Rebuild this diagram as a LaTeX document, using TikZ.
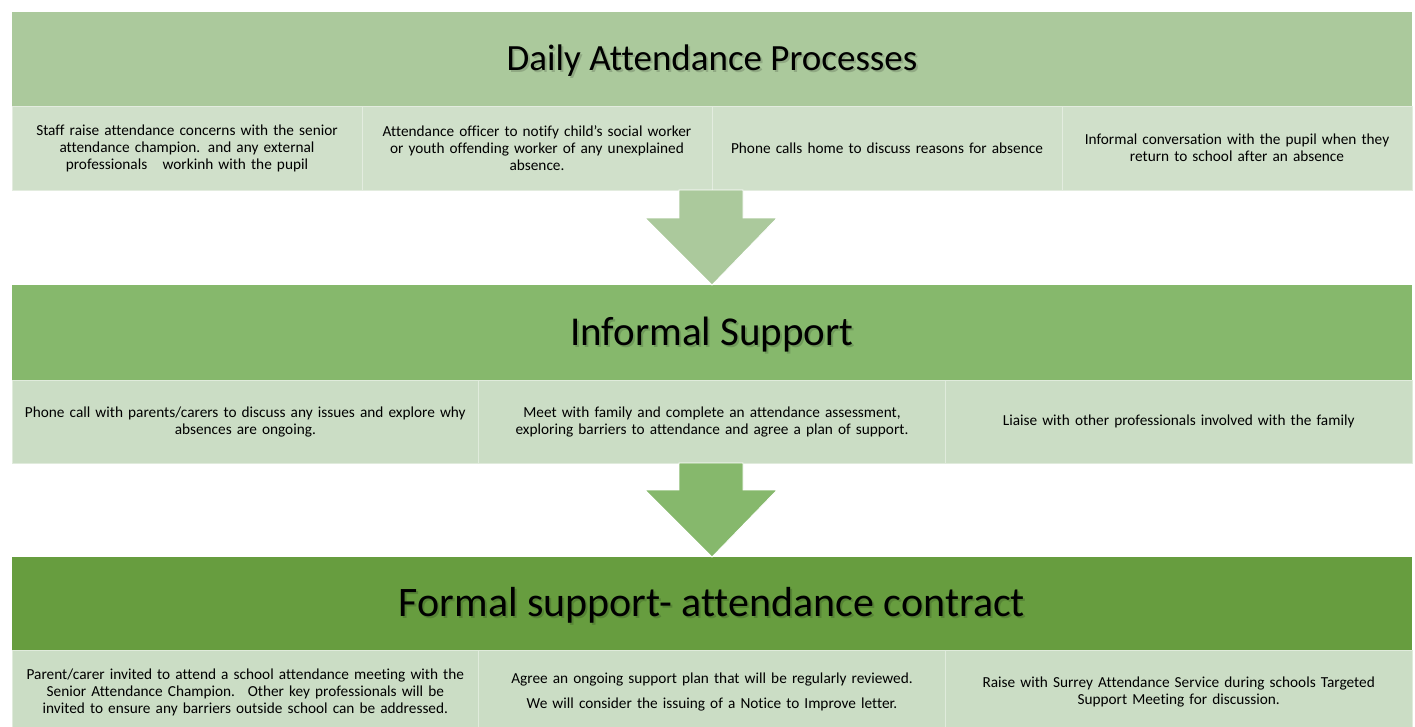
\documentclass[tikz,border=0pt]{standalone}
\usepackage{fontspec}
\setmainfont{Carlito}[Ligatures=NoCommon]
\usetikzlibrary{positioning,calc}

\definecolor{dailyhead}{HTML}{ABC99C}
\definecolor{informalhead}{HTML}{86B86C}
\definecolor{formalhead}{HTML}{679D3F}
\definecolor{dailycell}{HTML}{D0E0CA}
\definecolor{supportcell}{HTML}{CBDDC5}

\newcommand{\headtext}[2]{\leavevmode\raisebox{-0.32em}[0pt][0pt]{\rlap{\kern2pt\raisebox{-2pt}{\textcolor{#1!84!black}{#2}}}#2}}

\tikzset{
  header/.style={fill=#1, minimum width=1400pt, minimum height=94pt,
    inner sep=0pt, outer sep=0pt},
  cell/.style={fill=#1, draw=white!40!#1, line width=0.8pt, minimum height=84pt,
    inner sep=0pt, outer sep=0pt, align=center, font=\fontsize{15.3}{17}\selectfont},
  quarter/.style={minimum width=350pt, text width=340pt},
  third/.style={minimum width=466.67pt, text width=456pt},
  downarrow/.style={fill=#1, draw=white, line width=0.8pt},
}

\begin{document}
\begin{tikzpicture}[x=1pt,y=-1pt]
  \useasboundingbox (0,0) rectangle (1415,726);

  % daily attendance processes
  \node[header=dailyhead, font=\fontsize{37}{44}\selectfont] (daily) at (712,59)
    {\headtext{dailyhead}{Daily Attendance Processes}};
  \node[cell=dailycell, quarter, anchor=north west] (d1) at (daily.south west)
    {Staff raise attendance concerns with the senior\\attendance champion. and any external\\professionals \ \ workinh with the pupil};
  \node[cell=dailycell, quarter, right=0pt of d1] (d2)
    {Attendance officer to notify child's social worker\\or youth offending worker of any unexplained\\absence.};
  \node[cell=dailycell, quarter, right=0pt of d2] (d3)
    {Phone calls home to discuss reasons for absence};
  \node[cell=dailycell, quarter, right=0pt of d3] (d4)
    {Informal conversation with the pupil when they\\return to school after an absence};

  % informal support
  \node[header=informalhead, minimum height=95pt, font=\fontsize{41}{48}\selectfont] (informal) at (712,332.5)
    {\headtext{informalhead}{Informal Support}};
  \node[cell=supportcell, third, minimum height=83pt, anchor=north west] (i1) at (informal.south west)
    {Phone call with parents/carers to discuss any issues and explore why\\absences are ongoing.};
  \node[cell=supportcell, third, minimum height=83pt, right=0pt of i1] (i2)
    {Meet with family and complete an attendance assessment,\\exploring barriers to attendance and agree a plan of support.};
  \node[cell=supportcell, third, minimum height=83pt, right=0pt of i2] (i3)
    {Liaise with other professionals involved with the family};

  % formal support
  \node[header=formalhead, minimum height=93pt, font=\fontsize{42}{48}\selectfont] (formal) at (712,603.5)
    {\headtext{formalhead}{Formal support- attendance contract}};
  \node[cell=supportcell, third, anchor=north west] (f1) at (formal.south west)
    {Parent/carer invited to attend a school attendance meeting with the\\Senior Attendance Champion. \ Other key professionals will be\\invited to ensure any barriers outside school can be addressed.};
  \node[cell=supportcell, third, right=0pt of f1] (f2)
    {Agree an ongoing support plan that will be regularly reviewed.\\[8pt]We will consider the issuing of a Notice to Improve letter.};
  \node[cell=supportcell, third, right=0pt of f2] (f3)
    {Raise with Surrey Attendance Service during schools Targeted\\Support Meeting for discussion.};

  % block arrows
  \coordinate (a1) at (d2.south east);
  \coordinate (a2) at (a1 |- i2.south);
  \fill[downarrow=dailyhead]
    ($(a1)+(-33,0)$) -- ($(a1)+(31,0)$) -- ($(a1)+(31,28)$) -- ($(a1)+(65,28)$)
    -- (a1 |- informal.north) -- ($(a1)+(-67,28)$) -- ($(a1)+(-33,28)$) -- cycle;
  \fill[downarrow=informalhead]
    ($(a2)+(-33,0)$) -- ($(a2)+(31,0)$) -- ($(a2)+(31,27)$) -- ($(a2)+(65,27)$)
    -- (a2 |- formal.north) -- ($(a2)+(-67,27)$) -- ($(a2)+(-33,27)$) -- cycle;
\end{tikzpicture}
\end{document}
